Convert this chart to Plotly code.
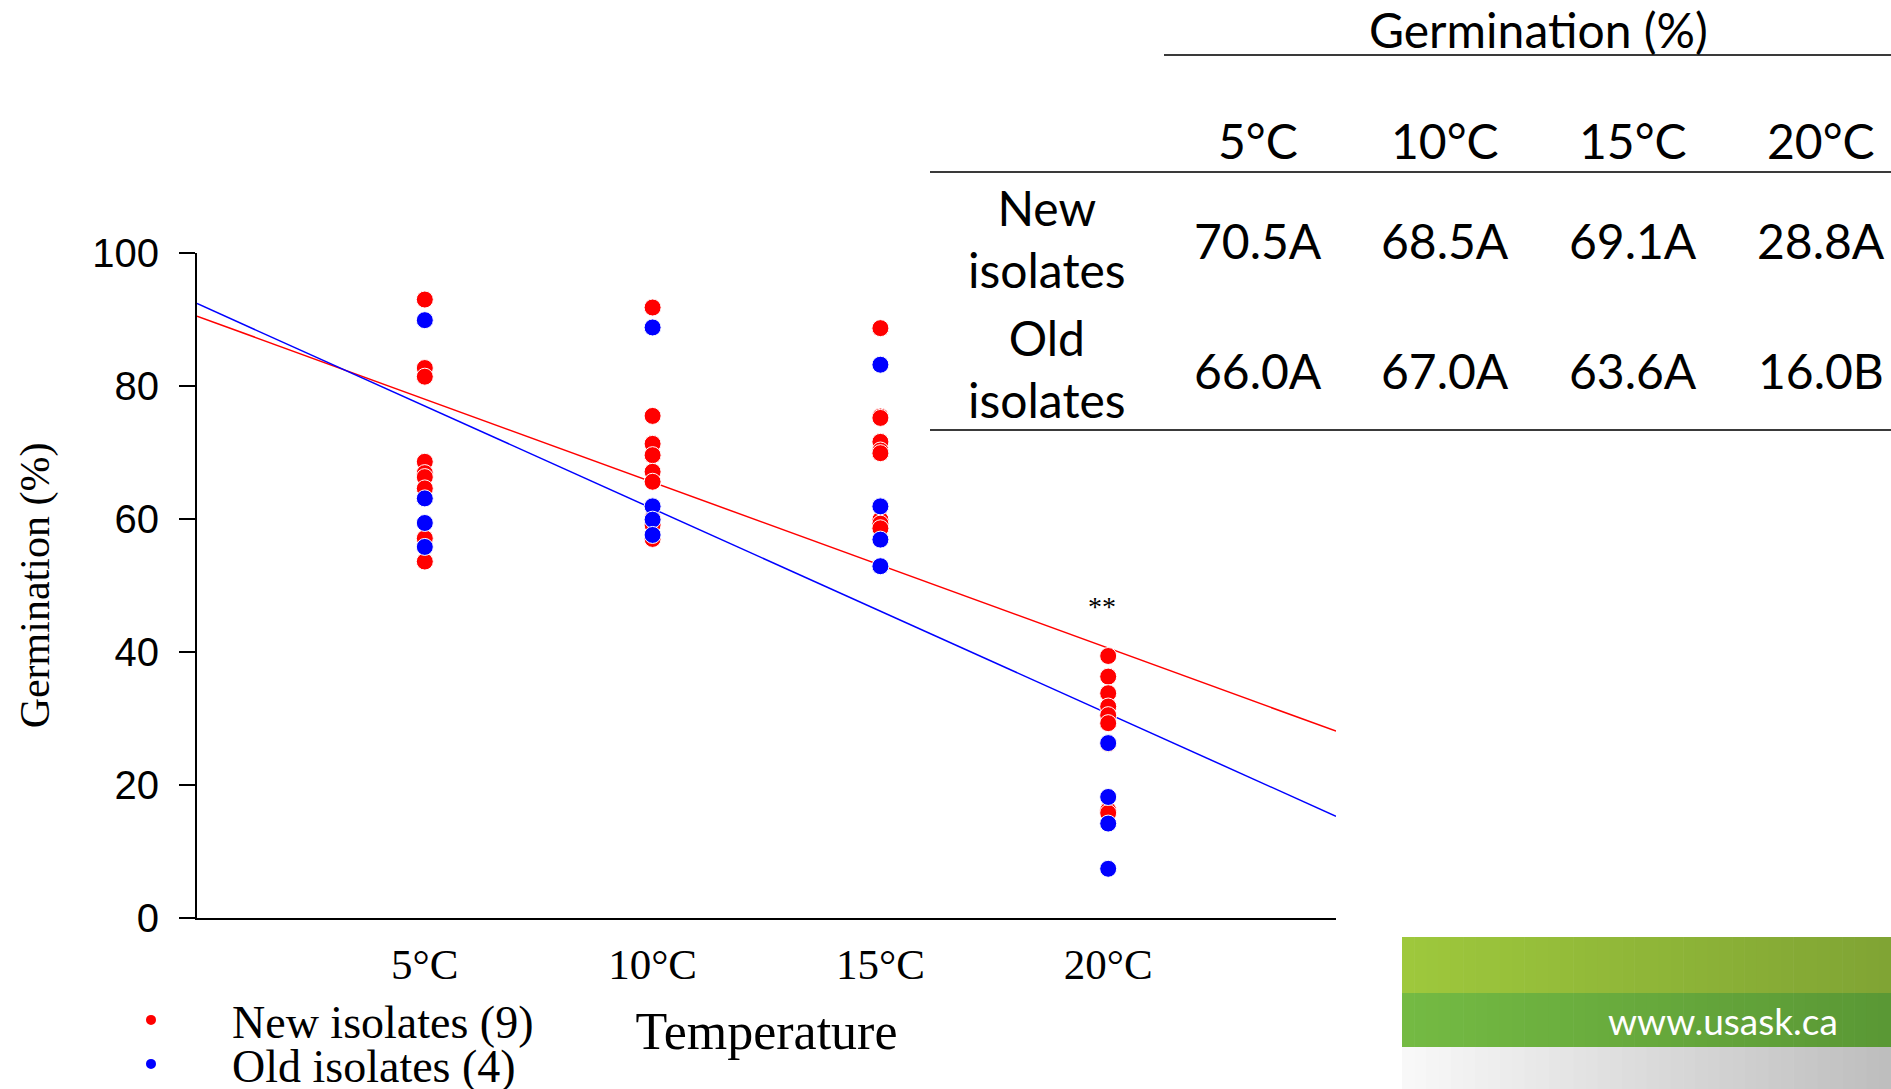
import plotly.graph_objects as go

# ---------------- data ----------------
temps = [5, 10, 15, 20]
temp_labels = ["5°C", "10°C", "15°C", "20°C"]

new_5c = [93.0, 82.7, 81.4, 68.6, 66.9, 66.3, 64.6, 57.1, 53.6]
new_10c = [91.8, 75.5, 71.3, 69.6, 67.1, 65.6, 60.1, 59.1, 57.0]
new_15c = [88.7, 75.4, 75.2, 71.6, 70.3, 69.9, 59.9, 59.3, 58.6]
new_20c = [39.4, 36.3, 33.8, 31.8, 30.5, 29.3, 26.2, 16.2, 15.8]

old_5c = [89.9, 63.1, 59.4, 55.8]
old_10c = [88.8, 61.9, 59.9, 57.6]
old_15c = [83.2, 61.9, 56.9, 52.9]
old_20c = [26.3, 18.2, 14.2, 7.4]

fit_x = [0, 25]
new_fit = [90.5, 28.1]
old_fit = [92.4, 15.3]

signif_temp = 20
signif_y = 46.8
signif_text = "**"

table_cols = ["5°C", "10°C", "15°C", "20°C"]
table_rows = ["New<br>isolates", "Old<br>isolates"]
table_new = ["70.5A", "68.5A", "69.1A", "28.8A"]
table_old = ["66.0A", "67.0A", "63.6A", "16.0B"]
table_title = "Germination (%)"
site_text = "www.usask.ca"

# ---------------- layout geometry (pixels) ----------------
FW, FH = 1891, 1089
L, R, T, B = 197, 1336, 253, 918
W, H = R - L, B - T


def px(x):
    return (x - L) / W


def py(y):
    return (B - y) / H


RED = "#FF0000"
BLUE = "#0000FF"
SERIF = "Liberation Serif, Times New Roman, serif"
SANS = "Liberation Sans, Arial, sans-serif"
TFONT = "Lato, Open Sans, sans-serif"

fig = go.Figure()


def expand(groups):
    xs, ys = [], []
    for t, vals in zip(temps, groups):
        xs += [t] * len(vals)
        ys += vals
    return xs, ys


nx, ny = expand([new_5c, new_10c, new_15c, new_20c])
ox, oy = expand([old_5c, old_10c, old_15c, old_20c])

fig.add_trace(go.Scatter(x=fit_x, y=new_fit, mode="lines",
                         line=dict(color=RED, width=1.5), showlegend=False,
                         hoverinfo="skip"))
fig.add_trace(go.Scatter(x=fit_x, y=old_fit, mode="lines",
                         line=dict(color=BLUE, width=1.5), showlegend=False,
                         hoverinfo="skip"))
fig.add_trace(go.Scatter(x=nx, y=ny, mode="markers", name="New isolates (9)",
                         marker=dict(color=RED, size=17,
                                     line=dict(color="white", width=1)),
                         legend="legend"))
fig.add_trace(go.Scatter(x=ox, y=oy, mode="markers", name="Old isolates (4)",
                         marker=dict(color=BLUE, size=17,
                                     line=dict(color="white", width=1)),
                         legend="legend2"))

annotations = []
annotations.append(dict(x=signif_temp, y=signif_y, xref="x", yref="y",
                        text=signif_text, showarrow=False, xshift=-6,
                        xanchor="center", yanchor="middle",
                        font=dict(family=SERIF, size=28, color="black")))


def ptext(x, y, text, size, color="black"):
    return dict(x=px(x), y=py(y), xref="paper", yref="paper", text=text,
                showarrow=False, xanchor="center", yanchor="middle",
                align="center", font=dict(family=TFONT, size=size, color=color))


tsize = 48
annotations.append(ptext(1538, 29, table_title, 48))
col_x = [1258, 1445, 1633, 1821]
for cx, c in zip(col_x, table_cols):
    annotations.append(ptext(cx, 141, c, tsize))
row_y = [238, 368]
for ry, lab, vals in zip(row_y, table_rows, [table_new, table_old]):
    annotations.append(ptext(1047, ry, lab, tsize))
    for cx, v in zip(col_x, vals):
        annotations.append(ptext(cx, ry + 2, v, tsize))

annotations.append(ptext(1723, 1020, site_text, 37, "white"))

shapes = []
LINEC = "#3a3a3a"
for (x0, x1, y) in [(1164, 1891, 55), (930, 1891, 172), (930, 1891, 430)]:
    shapes.append(dict(type="line", xref="paper", yref="paper",
                       x0=px(x0), x1=px(x1), y0=py(y), y1=py(y),
                       line=dict(color=LINEC, width=2)))


def lerp(c0, c1, f):
    return "rgb(%d,%d,%d)" % tuple(round(a + (b - a) * f) for a, b in zip(c0, c1))


bands = [
    (937, 993, (158, 200, 60), (128, 164, 52)),
    (993, 1047, (116, 186, 67), (90, 152, 53)),
    (1047, 1089, (248, 248, 248), (190, 190, 190)),
]
bx0, bx1 = 1402, 1891
N = 40
for (y0, y1, c0, c1) in bands:
    for i in range(N):
        xa = bx0 + (bx1 - bx0) * i / N
        xb = bx0 + (bx1 - bx0) * (i + 1) / N + 0.6
        shapes.append(dict(type="rect", xref="paper", yref="paper",
                           x0=px(xa), x1=px(xb), y0=py(y0), y1=py(y1),
                           fillcolor=lerp(c0, c1, i / (N - 1)),
                           line=dict(width=0), layer="below"))

legend_common = dict(font=dict(family=SERIF, size=46, color="black"),
                     bgcolor="rgba(0,0,0,0)", xanchor="left", yanchor="middle",
                     itemwidth=152, itemsizing="constant")

fig.update_layout(
    width=FW, height=FH,
    margin=dict(l=L, r=FW - R, t=T, b=FH - B, pad=0, autoexpand=False),
    paper_bgcolor="white", plot_bgcolor="white",
    xaxis=dict(range=[0, 25], tickvals=temps, ticktext=temp_labels,
               showgrid=False, zeroline=False, showline=True,
               linecolor="black", linewidth=2, ticks="",
               ticklabelstandoff=7,
               tickfont=dict(family=SERIF, size=43, color="black"),
               title=dict(text="Temperature", standoff=26,
                          font=dict(family=SERIF, size=52, color="black"))),
    yaxis=dict(range=[0, 100], tickvals=[0, 20, 40, 60, 80, 100],
               showgrid=False, zeroline=False, showline=True,
               linecolor="black", linewidth=2, ticks="outside",
               ticklen=16, tickwidth=2, tickcolor="black",
               ticklabelstandoff=12,
               tickfont=dict(family=SANS, size=40, color="black"),
               title=dict(text="Germination (%)", standoff=30,
                          font=dict(family=SERIF, size=42, color="black"))),
    legend=dict(x=px(70), y=py(1020), **legend_common),
    legend2=dict(x=px(70), y=py(1064), **legend_common),
    annotations=annotations,
    shapes=shapes,
)

fig.write_html("out.html", config={"displayModeBar": False},
               post_script="document.body.style.margin='0';document.body.style.overflow='hidden';")
